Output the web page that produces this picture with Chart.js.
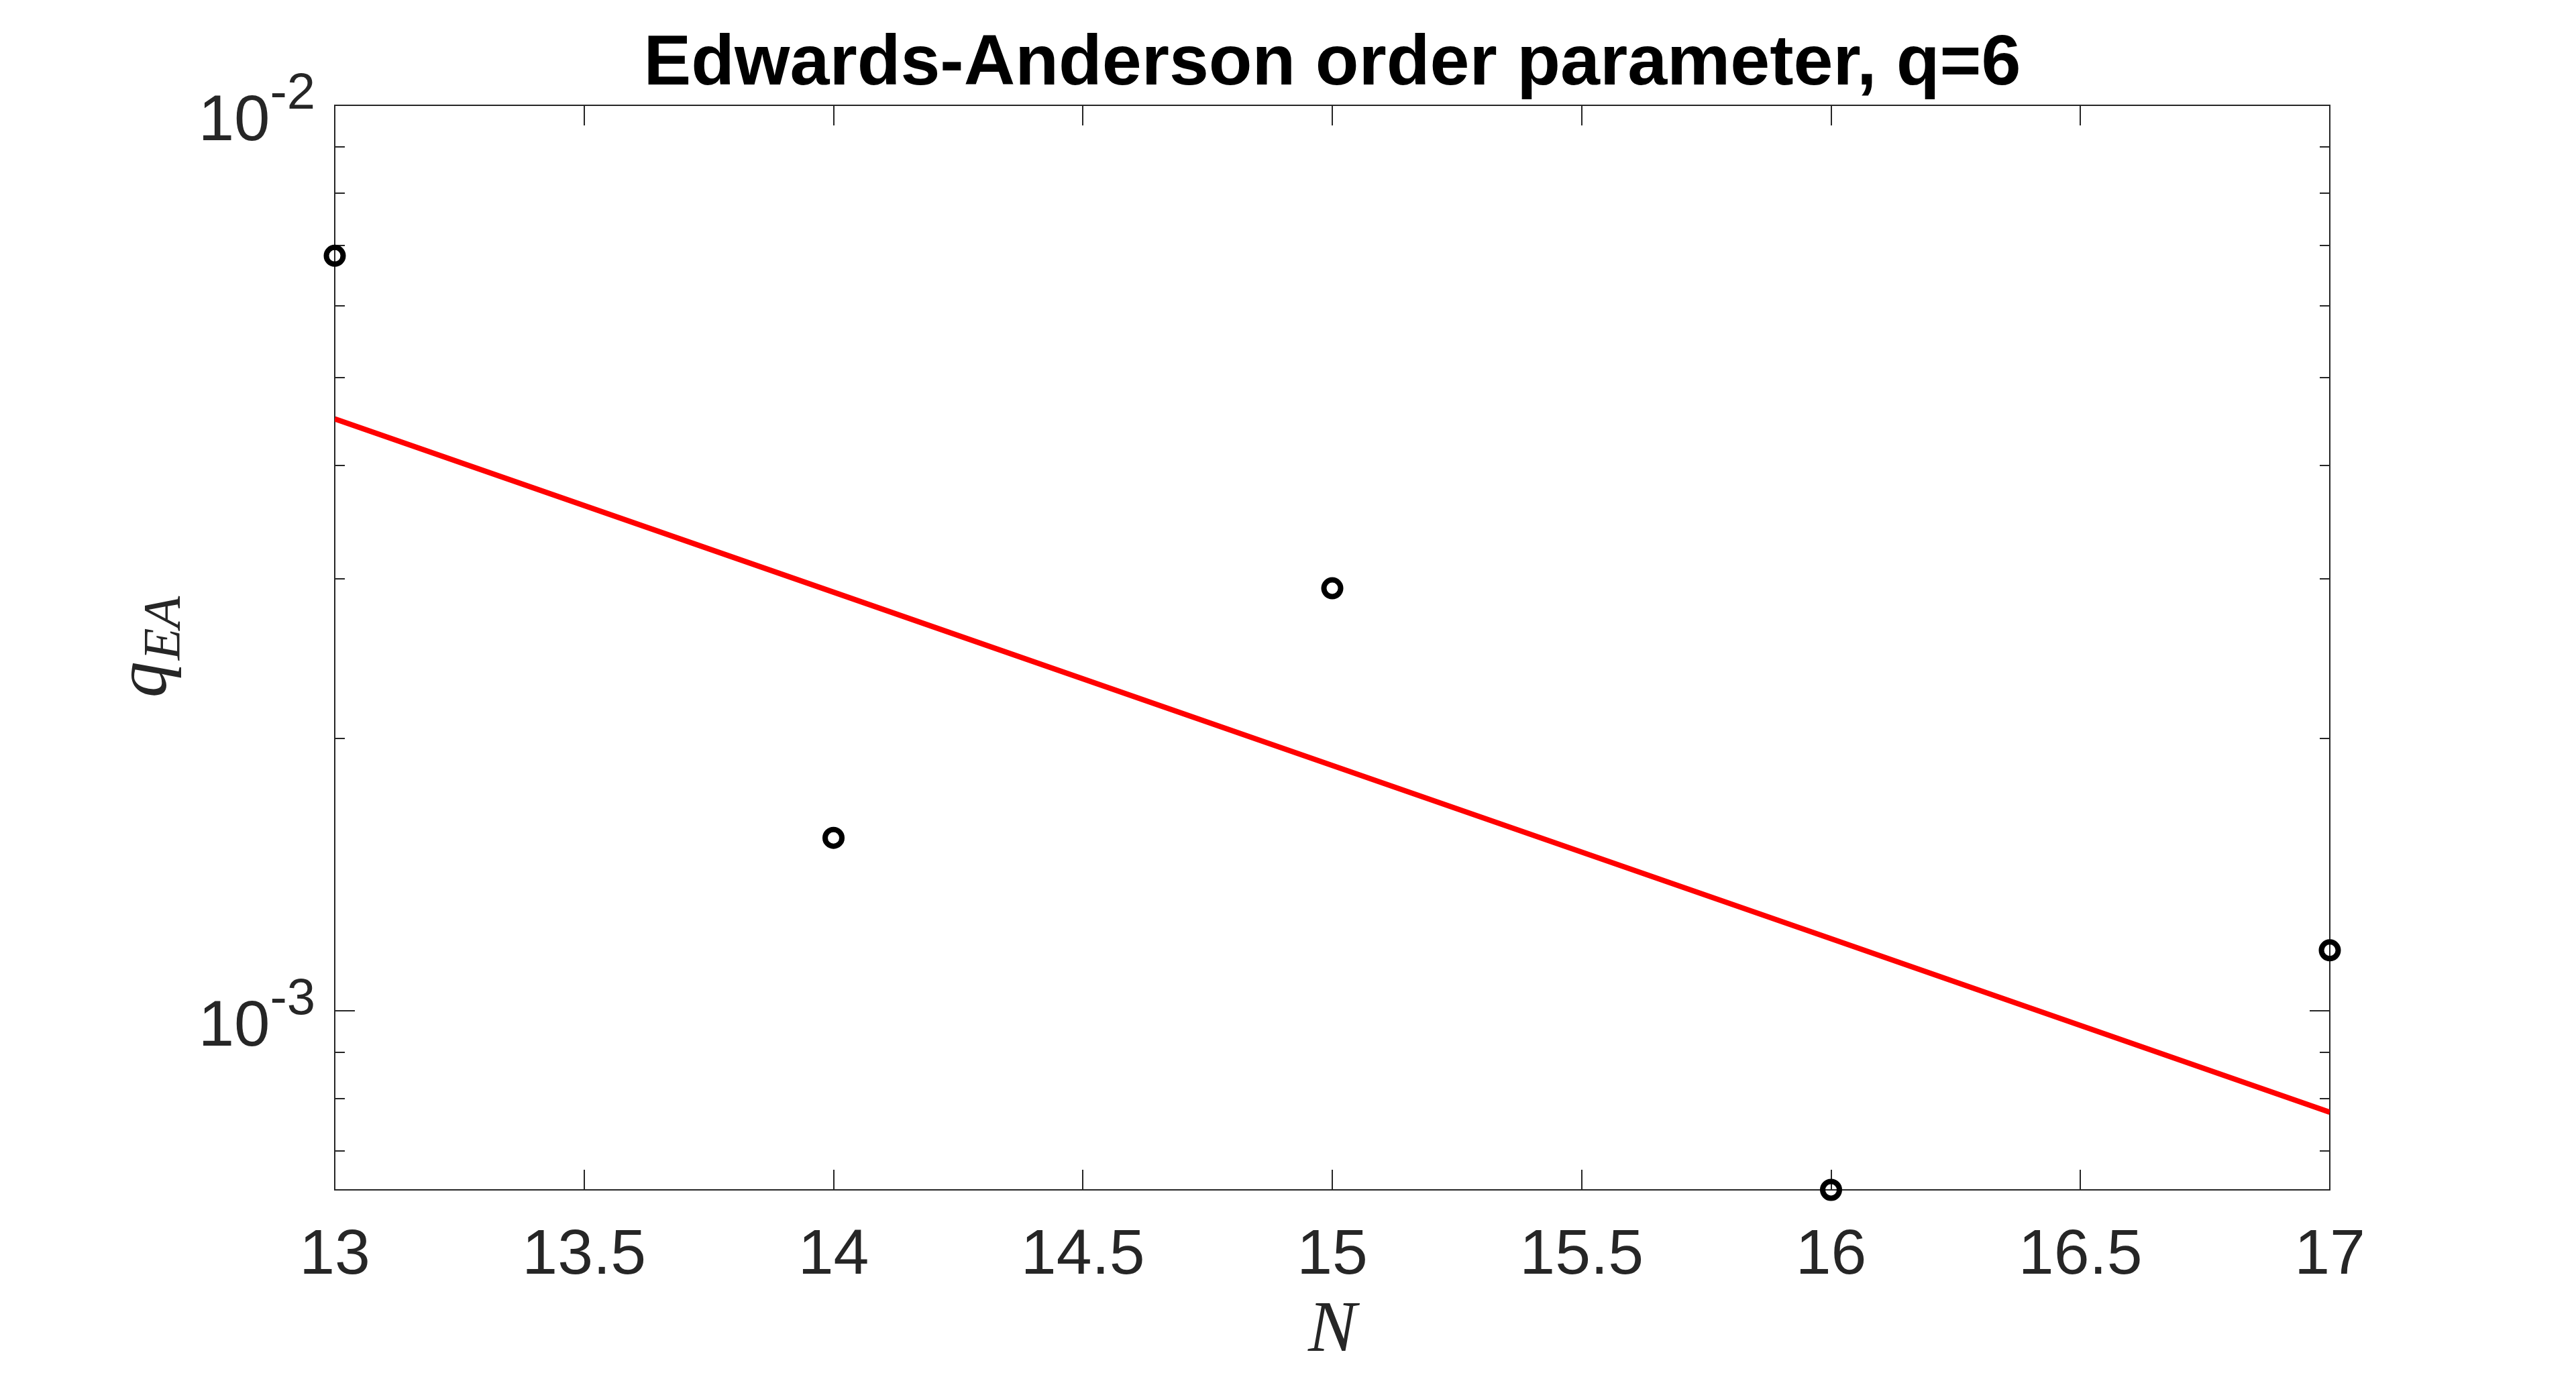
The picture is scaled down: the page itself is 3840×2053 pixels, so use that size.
<!DOCTYPE html>
<html>
<head>
<meta charset="utf-8">
<script src="https://cdn.jsdelivr.net/npm/chart.js@4/dist/chart.umd.min.js"></script>
<style>
html,body{margin:0;padding:0;background:#fff;}
canvas{display:block;}
</style>
</head>
<body>
<canvas id="c" width="3840" height="2053"></canvas>
<script>
// ---- data ----
const N = [13, 14, 15, 16, 17];
const qEA = [6.82e-3, 1.552e-3, 2.928e-3, 6.34e-4, 1.166e-3];
const fitN = [13, 14, 15, 16, 17];
const fitQ = [4.504e-3, 2.899e-3, 1.866e-3, 1.201e-3, 7.725e-4];
const xTicks = [13, 13.5, 14, 14.5, 15, 15.5, 16, 16.5, 17];
const xTickLabels = ['13', '13.5', '14', '14.5', '15', '15.5', '16', '16.5', '17'];
const yMajorTicks = [1e-3, 1e-2];
const yTickBase = ['10', '10'];
const yTickExp = ['-3', '-2'];
const yMinorTicks = [7e-4, 8e-4, 9e-4, 2e-3, 3e-3, 4e-3, 5e-3, 6e-3, 7e-3, 8e-3, 9e-3];
const xMin = 13, xMax = 17;
const yMin = 6.34e-4, yMax = 1e-2;
const titleText = 'Edwards-Anderson order parameter, q=6';
const xLabel = 'N';
const yLabelMain = 'q';
const yLabelSub = 'EA';

const AX = '#262626';

const matlabAxes = {
  id: 'matlabAxes',
  beforeDatasetsDraw(chart) {
    const {ctx, chartArea: a, scales: {x, y}} = chart;
    ctx.save();
    ctx.strokeStyle = AX;
    ctx.lineWidth = 2;
    ctx.lineCap = 'butt';
    const line = (x1, y1, x2, y2) => { ctx.beginPath(); ctx.moveTo(x1, y1); ctx.lineTo(x2, y2); ctx.stroke(); };
    xTicks.forEach(v => {
      const px = Math.round(x.getPixelForValue(v));
      line(px, a.bottom, px, a.bottom - 30);
      line(px, a.top, px, a.top + 30);
    });
    yMajorTicks.forEach(v => {
      const py = Math.round(y.getPixelForValue(v));
      line(a.left, py, a.left + 30, py);
      line(a.right, py, a.right - 30, py);
    });
    yMinorTicks.forEach(v => {
      const py = Math.round(y.getPixelForValue(v));
      line(a.left, py, a.left + 15, py);
      line(a.right, py, a.right - 15, py);
    });
    ctx.strokeRect(a.left, a.top, a.right - a.left, a.bottom - a.top);
    ctx.restore();
  },
  afterDraw(chart) {
    const {ctx, chartArea: a, scales: {x, y}} = chart;
    ctx.save();
    // title
    ctx.fillStyle = '#000';
    ctx.font = 'bold 106px "Liberation Sans", Arial, sans-serif';
    ctx.textAlign = 'center';
    ctx.textBaseline = 'alphabetic';
    ctx.fillText(titleText, (a.left + a.right) / 2, 126);

    // x tick labels
    ctx.fillStyle = AX;
    ctx.font = '95px "Liberation Sans", Arial, sans-serif';
    ctx.textAlign = 'center';
    xTicks.forEach((v, i) => {
      ctx.fillText(xTickLabels[i], x.getPixelForValue(v), a.bottom + 125);
    });

    // y tick labels with superscript
    yMajorTicks.forEach((v, i) => {
      const py = y.getPixelForValue(v);
      ctx.textAlign = 'right';
      ctx.font = '76px "Liberation Sans", Arial, sans-serif';
      const right = a.left - 29;
      ctx.fillText(yTickExp[i], right, py + 5);
      const we = ctx.measureText(yTickExp[i]).width;
      ctx.font = '96px "Liberation Sans", Arial, sans-serif';
      ctx.fillText(yTickBase[i], right - we, py + 52);
    });

    // x label
    ctx.font = 'italic 108px "Liberation Serif", "Times New Roman", serif';
    ctx.textAlign = 'center';
    ctx.fillText(xLabel, (a.left + a.right) / 2, 2014);

    // y label (rotated, with subscript)
    ctx.translate(247, (a.top + a.bottom) / 2);
    ctx.rotate(-Math.PI / 2);
    ctx.textAlign = 'left';
    ctx.font = 'italic 108px "Liberation Serif", "Times New Roman", serif';
    const wq = ctx.measureText(yLabelMain).width;
    ctx.font = 'italic 78px "Liberation Serif", "Times New Roman", serif';
    const ws = ctx.measureText(yLabelSub).width;
    const start = -(wq + ws) / 2;
    ctx.font = 'italic 108px "Liberation Serif", "Times New Roman", serif';
    ctx.fillText(yLabelMain, start, 0);
    ctx.font = 'italic 78px "Liberation Serif", "Times New Roman", serif';
    ctx.fillText(yLabelSub, start + wq + 2, 20);
    ctx.restore();
  }
};

new Chart(document.getElementById('c'), {
  type: 'scatter',
  data: {
    datasets: [
      {
        type: 'scatter',
        label: 'data',
        data: N.map((n, i) => ({x: n, y: qEA[i]})),
        borderColor: '#000',
        backgroundColor: 'rgba(0,0,0,0)',
        pointStyle: 'circle',
        pointRadius: 12.5,
        pointHoverRadius: 12.5,
        pointBorderWidth: 8,
        pointHoverBorderWidth: 8,
        pointBackgroundColor: 'rgba(0,0,0,0)',
        pointBorderColor: '#000',
        showLine: false,
        clip: false
      },
      {
        type: 'line',
        label: 'fit',
        data: fitN.map((n, i) => ({x: n, y: fitQ[i]})),
        borderColor: '#ff0000',
        borderWidth: 8,
        pointRadius: 0,
        tension: 0,
        fill: false
      }
    ]
  },
  options: {
    responsive: false,
    animation: false,
    devicePixelRatio: 1,
    elements: {point: {radius: 12.5, borderWidth: 8, pointStyle: 'circle'}},
    layout: {padding: {left: 0, right: 367, top: 157, bottom: 0}},
    plugins: {legend: {display: false}, title: {display: false}, tooltip: {enabled: false}},
    scales: {
      x: {
        type: 'linear', min: xMin, max: xMax, bounds: 'data',
        grid: {display: false}, border: {display: false},
        ticks: {display: false, stepSize: 0.5},
        afterFit(s) { s.height = 279; }
      },
      y: {
        type: 'logarithmic', min: yMin, max: yMax, bounds: 'data',
        grid: {display: false}, border: {display: false},
        ticks: {display: false},
        afterBuildTicks(s) { s.ticks = yMajorTicks.concat(yMinorTicks).map(v => ({value: v})); },
        afterFit(s) { s.width = 499; }
      }
    }
  },
  plugins: [matlabAxes]
});
</script>
</body>
</html>
